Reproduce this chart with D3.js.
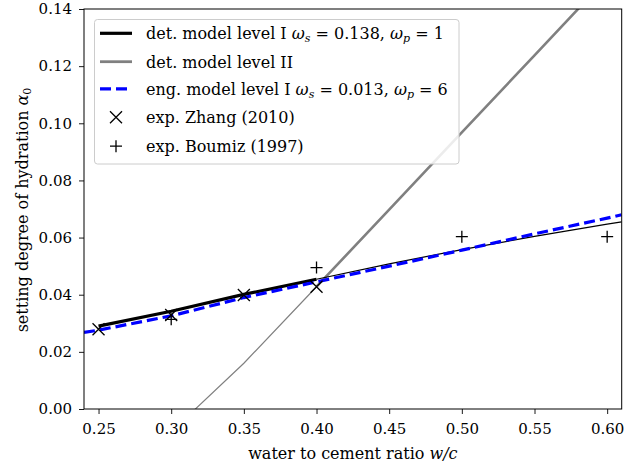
<!DOCTYPE html>
<html><head><meta charset="utf-8">
<script src="https://cdn.jsdelivr.net/npm/d3@7"></script>
<style>
body{margin:0;background:#fff;}
text{font-family:"DejaVu Serif",serif;fill:#000;}
</style></head>
<body><svg id="c" width="642" height="467"></svg>
<script>
// ---- data ----
const xTicks = [0.25, 0.30, 0.35, 0.40, 0.45, 0.50, 0.55, 0.60];
const yTicks = [0.00, 0.02, 0.04, 0.06, 0.08, 0.10, 0.12, 0.14];
// det. model level I (thick within data range, thin extrapolation)
const detIThickX = [0.25, 0.30, 0.35, 0.40];
const detIThickY = [0.029, 0.0342, 0.0401, 0.0454];
const detIThinX = [0.40, 0.45, 0.50, 0.55, 0.60, 0.61];
const detIThinY = [0.0454, 0.0508, 0.0558, 0.0604, 0.0647, 0.0655];
// det. model level II
const detIIThinX = [0.30, 0.35, 0.40];
const detIIThinY = [-0.0080, 0.0160, 0.0428];
const detIIThickX = [0.40, 0.45, 0.50, 0.55, 0.60];
const detIIThickY = [0.0428, 0.0698, 0.0968, 0.1238, 0.1508];
// eng. model level I
const engX = [0.24, 0.25, 0.30, 0.35, 0.40, 0.45, 0.50, 0.55, 0.60, 0.61];
const engY = [0.0268, 0.0276, 0.0326, 0.0390, 0.0445, 0.0500, 0.0556, 0.0613, 0.0668, 0.0680];
// experiments
const zhangX = [0.25, 0.30, 0.35, 0.40];
const zhangY = [0.0279, 0.0329, 0.0399, 0.0428];
const boumizX = [0.30, 0.40, 0.50, 0.60];
const boumizY = [0.0314, 0.0495, 0.0603, 0.0603];

// ---- layout ----
const L = 84, R = 621.7, T = 9, B = 409;
const FONT = '"DejaVu Serif",serif';
const svg = d3.select("#c");
const x = d3.scaleLinear().domain([0.24, 0.61]).range([L, R]);
const y = d3.scaleLinear().domain([0, 0.14]).range([B, T]);
const zip = (xs, ys) => xs.map((v, i) => [v, ys[i]]);
const line = d3.line().x(d => x(d[0])).y(d => y(d[1]));

svg.append("defs").append("clipPath").attr("id", "clip")
  .append("rect").attr("x", L).attr("y", T).attr("width", R - L).attr("height", B - T);
const g = svg.append("g").attr("clip-path", "url(#clip)");

g.append("path").attr("d", line(zip(detIIThinX, detIIThinY))).attr("fill", "none").attr("stroke", "#808080").attr("stroke-width", 1.2);
g.append("path").attr("d", line(zip(detIIThickX, detIIThickY))).attr("fill", "none").attr("stroke", "#808080").attr("stroke-width", 2.6);
g.append("path").attr("d", line(zip(detIThinX, detIThinY))).attr("fill", "none").attr("stroke", "#000").attr("stroke-width", 1.2);
g.append("path").attr("d", line(zip(detIThickX, detIThickY))).attr("fill", "none").attr("stroke", "#000").attr("stroke-width", 3.2);
g.append("path").attr("d", line(zip(engX, engY))).attr("fill", "none").attr("stroke", "#0000ff").attr("stroke-width", 3.2)
  .attr("stroke-dasharray", "11,5");

const ms = 6;
zip(zhangX, zhangY).forEach(d => {
  const cx = x(d[0]), cy = y(d[1]);
  svg.append("path").attr("d", `M${cx-ms},${cy-ms}L${cx+ms},${cy+ms}M${cx-ms},${cy+ms}L${cx+ms},${cy-ms}`)
    .attr("stroke", "#000").attr("stroke-width", 1.3).attr("fill", "none");
});
zip(boumizX, boumizY).forEach(d => {
  const cx = x(d[0]), cy = y(d[1]);
  svg.append("path").attr("d", `M${cx-ms},${cy}L${cx+ms},${cy}M${cx},${cy-ms}L${cx},${cy+ms}`)
    .attr("stroke", "#000").attr("stroke-width", 1.3).attr("fill", "none");
});

// ---- axes ----
const xAxis = svg.append("g").attr("transform", `translate(0,${B})`)
  .call(d3.axisBottom(x).tickValues(xTicks).tickFormat(d3.format(".2f")).tickSize(5).tickPadding(9));
const yAxis = svg.append("g").attr("transform", `translate(${L},0)`)
  .call(d3.axisLeft(y).tickValues(yTicks).tickFormat(d3.format(".2f")).tickSize(5).tickPadding(7));
[xAxis, yAxis].forEach(a => {
  a.selectAll("path").remove();
  a.selectAll("line").attr("stroke", "#000").attr("stroke-width", 0.9);
  a.selectAll("text").style("font-family", FONT).style("font-size", "15px").attr("fill", "#222");
});
svg.append("rect").attr("x", L).attr("y", T).attr("width", R - L).attr("height", B - T)
  .attr("fill", "none").attr("stroke", "#000").attr("stroke-width", 1);

// axis labels
const xl = svg.append("text").attr("x", (L + R) / 2).attr("y", 458.5).attr("text-anchor", "middle").style("font-size", "16px").attr("fill", "#222");
xl.append("tspan").text("water to cement ratio ");
xl.append("tspan").attr("font-style", "italic").text("w/c");
const yl = svg.append("text").attr("transform", `translate(28,210) rotate(-90)`).attr("text-anchor", "middle").style("font-size", "16px").attr("fill", "#222");
yl.append("tspan").text("setting degree of hydration ");
yl.append("tspan").attr("font-style", "italic").text("α");
yl.append("tspan").attr("font-size", "11px").attr("dy", 3).text("0");

// ---- legend ----
const lg = svg.append("g");
lg.append("rect").attr("x", 94.5).attr("y", 19.5).attr("width", 364.5).attr("height", 144.5).attr("rx", 3)
  .attr("fill", "rgba(255,255,255,0.85)").attr("stroke", "#ccc").attr("stroke-width", 1);
const rows = [33.3, 61.7, 88.8, 117.3, 146.2];
lg.append("line").attr("x1", 100).attr("x2", 132).attr("y1", rows[0]).attr("y2", rows[0]).attr("stroke", "#000").attr("stroke-width", 3.2);
lg.append("line").attr("x1", 100).attr("x2", 132).attr("y1", rows[1]).attr("y2", rows[1]).attr("stroke", "#808080").attr("stroke-width", 2.8);
lg.append("line").attr("x1", 100).attr("x2", 132).attr("y1", rows[2]).attr("y2", rows[2]).attr("stroke", "#0000ff").attr("stroke-width", 3.2).attr("stroke-dasharray", "11,5");
{ const cx = 116, cy = rows[3];
  lg.append("path").attr("d", `M${cx-ms},${cy-ms}L${cx+ms},${cy+ms}M${cx-ms},${cy+ms}L${cx+ms},${cy-ms}`).attr("stroke", "#000").attr("stroke-width", 1.3); }
{ const cx = 116, cy = rows[4];
  lg.append("path").attr("d", `M${cx-ms},${cy}L${cx+ms},${cy}M${cx},${cy-ms}L${cx},${cy+ms}`).attr("stroke", "#000").attr("stroke-width", 1.3); }

function omega(t, sub, rest) {
  t.append("tspan").attr("font-style", "italic").text("ω");
  t.append("tspan").attr("font-size", "11px").attr("font-style", "italic").attr("dy", 3).text(sub);
  t.append("tspan").attr("dy", -3).text(rest);
}
const tx = 146, fs = "16px", off = 6;
let t = lg.append("text").attr("x", tx).attr("y", rows[0] + off).style("font-size", fs).attr("fill", "#222");
t.append("tspan").text("det. model level I ");
omega(t, "s", " = 0.138, ");
omega(t, "p", " = 1");
lg.append("text").attr("x", tx).attr("y", rows[1] + off).style("font-size", fs).attr("fill", "#222").text("det. model level II");
t = lg.append("text").attr("x", tx).attr("y", rows[2] + off).style("font-size", fs).attr("fill", "#222");
t.append("tspan").text("eng. model level I ");
omega(t, "s", " = 0.013, ");
omega(t, "p", " = 6");
lg.append("text").attr("x", tx).attr("y", rows[3] + off).style("font-size", fs).attr("fill", "#222").text("exp. Zhang (2010)");
lg.append("text").attr("x", tx).attr("y", rows[4] + off).style("font-size", fs).attr("fill", "#222").text("exp. Boumiz (1997)");
</script></body></html>
